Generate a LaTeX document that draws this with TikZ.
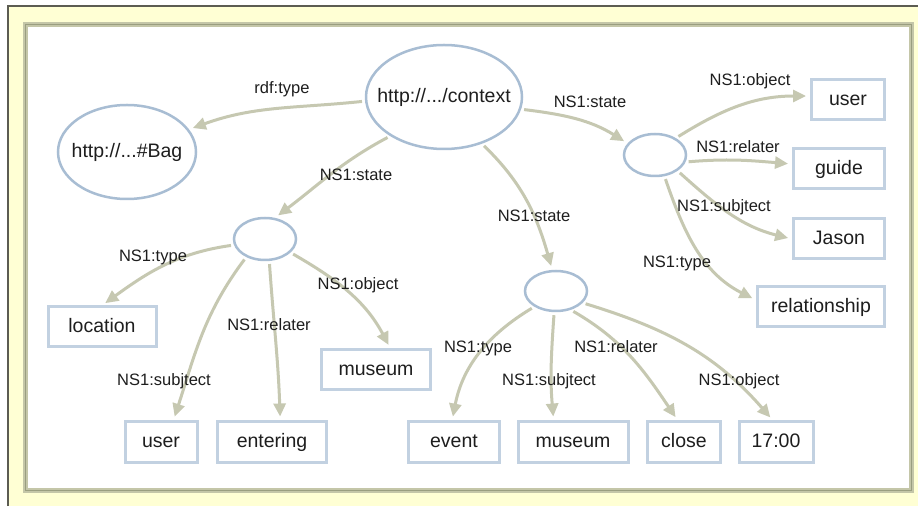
\documentclass[tikz,border=0pt]{standalone}
\usepackage{fontspec}
\setmainfont{Liberation Sans}
\usetikzlibrary{positioning,arrows.meta,shapes.geometric}
\definecolor{frameline}{HTML}{5C5C52}
\definecolor{paper}{HTML}{FFFFD4}
\definecolor{olive}{HTML}{C4C6A8}
\definecolor{olivedark}{HTML}{9A9E80}
\definecolor{wire}{HTML}{C6C8B1}
\definecolor{ring}{HTML}{A8BDD3}
\definecolor{boxline}{HTML}{C2D1E1}
\definecolor{ink}{HTML}{1E1E1E}

\begin{document}
\begin{tikzpicture}[x=1pt,y=1pt,
    res/.style={ellipse,draw=ring,line width=2.5pt,inner sep=0pt,text=ink,
      font=\fontsize{19.5}{22}\selectfont},
    lit/.style={rectangle,draw=boxline,line width=3pt,minimum height=40pt,inner sep=0pt,
      text height=14pt,text depth=3pt,text=ink,font=\fontsize{19.5}{22}\selectfont},
    prop/.style={inner sep=0pt,text height=12pt,text depth=3pt,text=ink,
      font=\fontsize{16.5}{19}\selectfont},
    link/.style={draw=wire,line width=3pt,shorten <=3pt,shorten >=4pt,
      -{Triangle[length=13pt,width=12pt]}}]
  \useasboundingbox (0,0) rectangle (918,506);
  \fill[paper] (8,0) rectangle (918,500);
  \draw[frameline,line width=2pt] (8,0) -- (8,500) -- (918,500);
  \filldraw[fill=white,draw=olive,line width=5pt] (25.5,15.5) rectangle (911.5,481.5);
  \draw[olivedark,line width=1.5pt] (25.5,15.5) rectangle (911.5,481.5);

  \node[res,minimum width=156pt,minimum height=104pt,inner xsep=-12pt] (ctx) at (444,409) {http://.../context};
  \node[res,minimum width=138pt,minimum height=94pt,inner xsep=-8pt] (bag) at (127,354) {http://...\#Bag};
  \node[res,minimum width=62pt,minimum height=42pt] (lstate) at (265,267) {};
  \node[res,minimum width=62pt,minimum height=42pt] (rstate) at (655,351) {};
  \node[res,minimum width=62pt,minimum height=40pt] (mstate) at (556,215) {};

  \node[lit,minimum width=73pt] (ruser) at (848,406) {user};
  \node[lit,minimum width=91pt] (rguide) at (839,337) {guide};
  \node[lit,minimum width=91pt] (rjason) at (839,267) {Jason};
  \node[lit,minimum width=127pt] (rrel) at (821,199) {relationship};
  \node[lit,minimum width=108pt] (lloc) at (102,179) {location};
  \node[lit,minimum width=109pt] (lmus) at (376,136) {museum};
  \node[lit,minimum width=72pt] (luser) at (161,64) {user};
  \node[lit,minimum width=109pt] (lent) at (272,64) {entering};
  \node[lit,minimum width=91pt] (mevt) at (454,64) {event};
  \node[lit,minimum width=110pt] (mmus) at (573,64) {museum};
  \node[lit,minimum width=73pt] (mclose) at (684,64) {close};
  \node[lit,minimum width=74pt] (mtime) at (776,64) {17:00};

  \draw[link] (ctx.183) to[out=186,in=20] (bag.20);
  \draw[link] (ctx.216) to[out=208,in=37] (lstate.65);
  \draw[link] (ctx.351) to[out=353,in=148] (rstate.157);
  \draw[link] (ctx.309) to[out=316,in=106] (mstate.100);
  \draw[link] (rstate.39) to[out=32,in=180] (ruser.174);
  \draw[link] (rstate.347) to[out=5,in=175] (rguide.174);
  \draw[link] (rstate.325) to[out=318,in=166] (rjason.west);
  \draw[link] (rstate.294) to[out=289,in=153] (rrel.174);
  \draw[link] (lstate.191) to[out=188,in=36] (lloc.north);
  \draw[link] (lstate.224) to[out=233,in=72] (luser.60);
  \draw[link] (lstate.281) to[out=274,in=92] (lent.69);
  \draw[link] (lstate.332) to[out=330,in=118] (lmus.56);
  \draw[link] (mstate.216) to[out=211,in=79] (mevt.95);
  \draw[link] (mstate.265) to[out=266,in=95] (mmus.132);
  \draw[link] (mstate.308) to[out=330,in=124] (mclose.106);
  \draw[link] (mstate.336) to[out=343,in=131] (mtime.98);

  \node[prop] (pbag) at (282,417) {rdf:type};
  \node[prop] (plstate) at (356,330) {NS1:state};
  \node[prop] (prstate) at (590,403) {NS1:state};
  \node[prop] (pmstate) at (534,289) {NS1:state};
  \node[prop] (pruser) at (750,425) {NS1:object};
  \node[prop] (prguide) at (738,358) {NS1:relater};
  \node[prop] (prjason) at (724,299) {NS1:subjtect};
  \node[prop] (prrel) at (677,243) {NS1:type};
  \node[prop] (plloc) at (153,249) {NS1:type};
  \node[prop] (plmus) at (358,221) {NS1:object};
  \node[prop] (plent) at (269,180) {NS1:relater};
  \node[prop] (pluser) at (164,125) {NS1:subjtect};
  \node[prop] (pmevt) at (478,158) {NS1:type};
  \node[prop] (pmmus) at (549,125) {NS1:subjtect};
  \node[prop] (pmclose) at (616,158) {NS1:relater};
  \node[prop] (pmtime) at (739,125) {NS1:object};
\end{tikzpicture}
\end{document}
